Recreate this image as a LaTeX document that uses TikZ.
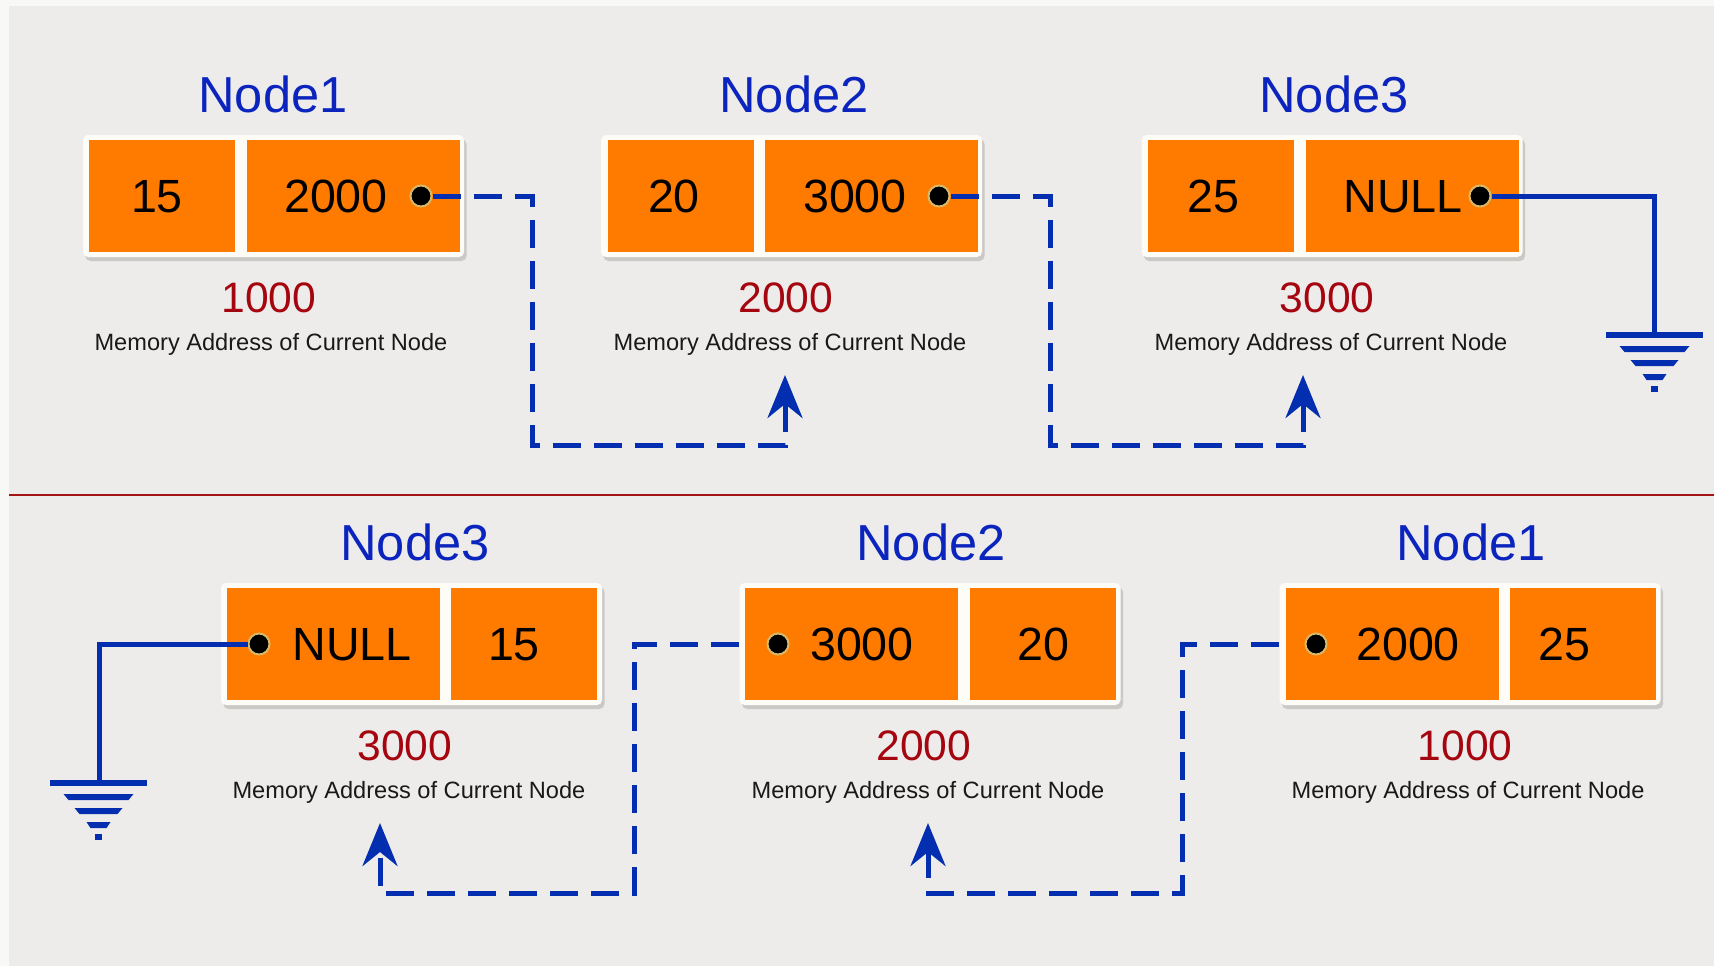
\documentclass[tikz,border=0pt]{standalone}
\usepackage{fontspec}
\setmainfont{Liberation Sans}
\usetikzlibrary{arrows.meta}

\definecolor{outergray}{RGB}{248,248,247}
\definecolor{panelgray}{RGB}{238,236,235}
\definecolor{boxwhite}{RGB}{253,252,246}
\definecolor{shadowgray}{RGB}{175,173,171}
\definecolor{cellorange}{RGB}{255,123,0}
\definecolor{linkblue}{RGB}{3,46,176}
\definecolor{titleblue}{RGB}{12,36,190}
\definecolor{addrred}{RGB}{165,5,15}
\definecolor{sepred}{RGB}{165,20,20}
\definecolor{notegray}{RGB}{25,25,25}
\definecolor{halo}{RGB}{215,185,105}

\tikzset{every picture/.style={line width=0.75pt}}
\tikzset{
  listbox/.style={rectangle, rounded corners=2.5pt, fill=boxwhite, minimum width=190.5pt, minimum height=61pt, inner sep=0pt},
  boxshadow/.style={listbox, fill=shadowgray, opacity=0.55},
  datacell/.style={rectangle, fill=cellorange, minimum width=73pt, minimum height=56pt, inner sep=0pt},
  nextcell/.style={datacell, minimum width=106.5pt},
  cellval/.style={anchor=base, inner sep=0pt, font=\fontsize{23.3}{28}\selectfont},
  nodetitle/.style={anchor=base, inner sep=0pt, text=titleblue, font=\fontsize{25.3}{30}\selectfont},
  addrval/.style={anchor=base, inner sep=0pt, text=addrred, font=\fontsize{21.3}{26}\selectfont},
  addrnote/.style={anchor=base, inner sep=0pt, text=notegray, font=\fontsize{11.8}{14}\selectfont},
  ptrdot/.style={circle, fill=black, draw=halo, line width=1pt, minimum size=10.5pt, inner sep=0pt},
  ptrlink/.style={draw=linkblue, line width=2.5pt, dash pattern=on 14pt off 6.5pt, -{Stealth[length=21.5pt,width=17.5pt,inset=7pt]}},
  nulllink/.style={draw=linkblue, line width=2.5pt},
  gndbar/.style={fill=linkblue},
}

\begin{document}
\begin{tikzpicture}[x=0.5pt,y=0.5pt,yscale=-1]
\useasboundingbox (0,0) rectangle (1714,966);

%Background
\fill[outergray] (0,0) rectangle (1714,966);
\fill[panelgray] (9,6) rectangle (1714,966);
%Separator
\draw[sepred, line width=1pt] (9,495) -- (1714,495);

%%%%%%%% Top list: Node1 -> Node2 -> Node3 %%%%%%%%

%Shape: Node1 box
\node[boxshadow] (top1shadow) at (276,200) {};
\node[listbox] (top1box) at (273.5,196) {};
\node[datacell] (top1data) at (162,196) {};
\node[nextcell] (top1next) at (353.5,196) {};
\node[ptrdot] (top1ptr) at (421,196) {};
% Text Node
\node[nodetitle] (top1title) at (273,112) {Node1};
\node[cellval] (top1dataval) at (157,212) {15};
\node[cellval] (top1nextval) at (336,212) {2000};
\node[addrval] (top1addr) at (269,312) {1000};
\node[addrnote] (top1note) at (271,350) {Memory Address of Current Node};

%Shape: Node2 box
\node[boxshadow] (top2shadow) at (794,200) {};
\node[listbox] (top2box) at (791.5,196) {};
\node[datacell] (top2data) at (680.5,196) {};
\node[nextcell] (top2next) at (871.5,196) {};
\node[ptrdot] (top2ptr) at (939,196) {};
% Text Node
\node[nodetitle] (top2title) at (794,112) {Node2};
\node[cellval] (top2dataval) at (674,212) {20};
\node[cellval] (top2nextval) at (855,212) {3000};
\node[addrval] (top2addr) at (786,312) {2000};
\node[addrnote] (top2note) at (790,350) {Memory Address of Current Node};

%Shape: Node3 box
\node[boxshadow] (top3shadow) at (1334.5,200) {};
\node[listbox] (top3box) at (1332,196) {};
\node[datacell] (top3data) at (1220.5,196) {};
\node[nextcell] (top3next) at (1412,196) {};
\node[ptrdot] (top3ptr) at (1480,196) {};
% Text Node
\node[nodetitle] (top3title) at (1334,112) {Node3};
\node[cellval] (top3dataval) at (1213,212) {25};
\node[cellval] (top3nextval) at (1403,212) {NULL};
\node[addrval] (top3addr) at (1327,312) {3000};
\node[addrnote] (top3note) at (1331,350) {Memory Address of Current Node};

%Links
\coordinate (top1bend) at (532,445);
\coordinate (top2bend) at (1050,445);
\coordinate (top2tip) at (785,375);
\coordinate (top3tip) at (1303,375);
\coordinate (top3gnd) at (1654,332);
\draw[ptrlink] (top1ptr) -| (top1bend) -| (top2tip);
\draw[ptrlink] (top2ptr) -| (top2bend) -| (top3tip);
\draw[nulllink] (top3ptr) -| (top3gnd);

%Shape: ground
\fill[gndbar] (1606,332) -- (1703,332) -- (1703,338) -- (1606,338) -- cycle;
\fill[gndbar] (1619.5,346) -- (1689.5,346) -- (1684.5,352) -- (1624.5,352) -- cycle;
\fill[gndbar] (1630.5,360) -- (1678.5,360) -- (1673.5,366) -- (1635.5,366) -- cycle;
\fill[gndbar] (1642.5,374) -- (1666.5,374) -- (1662.5,380) -- (1646.5,380) -- cycle;
\fill[gndbar] (1651,386) -- (1658,386) -- (1658,392) -- (1651,392) -- cycle;

%%%%%%%% Bottom list: Node3 <- Node2 <- Node1 %%%%%%%%

%Shape: Node3 box
\node[boxshadow] (bot3shadow) at (414,648) {};
\node[listbox] (bot3box) at (411.5,644) {};
\node[nextcell] (bot3next) at (333,644) {};
\node[datacell] (bot3data) at (524,644) {};
\node[ptrdot] (bot3ptr) at (259,644) {};
% Text Node
\node[nodetitle] (bot3title) at (415,560) {Node3};
\node[cellval] (bot3nextval) at (352,660) {NULL};
\node[cellval] (bot3dataval) at (514,660) {15};
\node[addrval] (bot3addr) at (405,760) {3000};
\node[addrnote] (bot3note) at (409,798) {Memory Address of Current Node};

%Shape: Node2 box
\node[boxshadow] (bot2shadow) at (932.5,648) {};
\node[listbox] (bot2box) at (930,644) {};
\node[nextcell] (bot2next) at (851,644) {};
\node[datacell] (bot2data) at (1042.5,644) {};
\node[ptrdot] (bot2ptr) at (778,644) {};
% Text Node
\node[nodetitle] (bot2title) at (931,560) {Node2};
\node[cellval] (bot2nextval) at (862,660) {3000};
\node[cellval] (bot2dataval) at (1043,660) {20};
\node[addrval] (bot2addr) at (924,760) {2000};
\node[addrnote] (bot2note) at (928,798) {Memory Address of Current Node};

%Shape: Node1 box
\node[boxshadow] (bot1shadow) at (1472.5,648) {};
\node[listbox] (bot1box) at (1470,644) {};
\node[nextcell] (bot1next) at (1392,644) {};
\node[datacell] (bot1data) at (1583,644) {};
\node[ptrdot] (bot1ptr) at (1316,644) {};
% Text Node
\node[nodetitle] (bot1title) at (1471,560) {Node1};
\node[cellval] (bot1nextval) at (1408,660) {2000};
\node[cellval] (bot1dataval) at (1564,660) {25};
\node[addrval] (bot1addr) at (1465,760) {1000};
\node[addrnote] (bot1note) at (1468,798) {Memory Address of Current Node};

%Links
\coordinate (bot1bend) at (1182,893);
\coordinate (bot2bend) at (634,893);
\coordinate (bot2tip) at (928,823);
\coordinate (bot3tip) at (380,823);
\coordinate (bot3gnd) at (99,780);
\draw[ptrlink] (bot1box.west) -| (bot1bend) -| (bot2tip);
\draw[ptrlink] (bot2box.west) -| (bot2bend) -| (bot3tip);
\draw[nulllink] (bot3ptr) -| (bot3gnd);

%Shape: ground
\fill[gndbar] (50,780) -- (147,780) -- (147,786) -- (50,786) -- cycle;
\fill[gndbar] (63.5,794) -- (133.5,794) -- (128.5,800) -- (68.5,800) -- cycle;
\fill[gndbar] (74.5,808) -- (122.5,808) -- (117.5,814) -- (79.5,814) -- cycle;
\fill[gndbar] (86.5,822) -- (110.5,822) -- (106.5,828) -- (90.5,828) -- cycle;
\fill[gndbar] (95,834) -- (102,834) -- (102,840) -- (95,840) -- cycle;

\end{tikzpicture}
\end{document}
